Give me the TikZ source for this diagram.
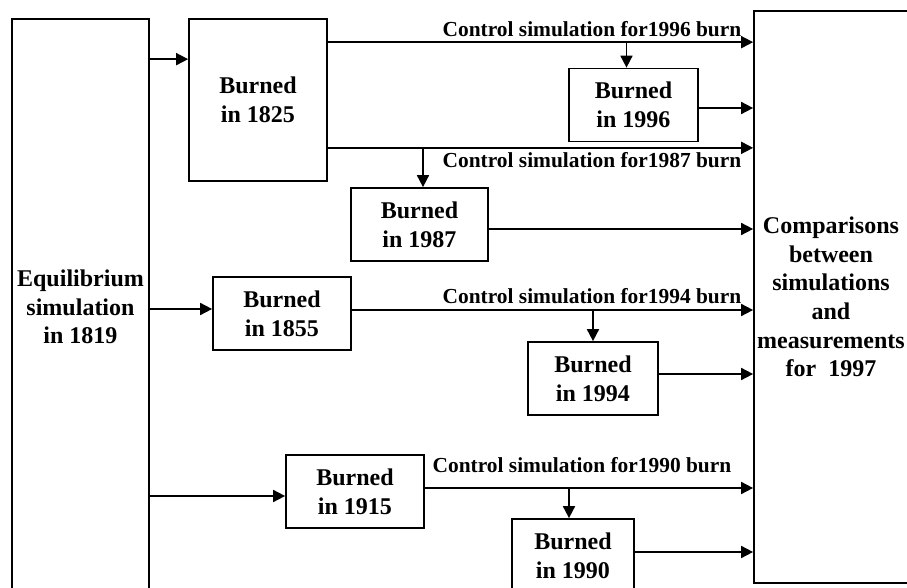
\documentclass[tikz,border=0pt]{standalone}
\usepackage{fontspec}
\setmainfont{Liberation Serif}
\usetikzlibrary{arrows.meta,positioning,calc}

\begin{document}
\begin{tikzpicture}[x=0.5pt,y=-0.5pt,line width=0.85pt,>={Triangle[length=6pt,width=6pt]}]
	\tikzstyle{box}=[draw,align=center,inner sep=0pt,font=\fontsize{12}{14.3}\selectfont\bfseries]
	\tikzstyle{burn}=[box,minimum height=36.5pt]
	\tikzstyle{ctrl}=[inner sep=0pt,font=\fontsize{10.7}{12}\selectfont\bfseries]
	\clip (0,0) rectangle (907,588);
	\node[box,minimum width=68.5pt,minimum height=288pt](eq) at (80.5,307){Equilibrium\\simulation\\in 1819};
	\node[box,minimum width=77pt,minimum height=286pt](cmp) at (831,297){Comparisons\\between\\simulations\\and\\measurements\\for\ \ 1997};
	\node[box,minimum width=69pt,minimum height=81pt](b1825) at (258,100){Burned\\in 1825};
	\node[burn,minimum width=64.5pt](b1996) at (633.5,105){Burned\\in 1996};
	\node[burn,minimum width=68.5pt](b1987) at (419.5,224.5){Burned\\in 1987};
	\node[burn,minimum width=69pt](b1855) at (282,313.5){Burned\\in 1855};
	\node[burn,minimum width=65pt](b1994) at (593,378.5){Burned\\in 1994};
	\node[burn,minimum width=69pt](b1915) at (355,491.5){Burned\\in 1915};
	\node[burn,minimum width=61pt](b1990) at (573,555.5){Burned\\in 1990};
	
	\coordinate (in1825) at ([yshift=-20.5pt]b1825.north west);
	\coordinate (in1855) at ([yshift=2.25pt]b1855.west);
	\coordinate (in1915) at ([yshift=-2.25pt]b1915.west);
	\coordinate (c1996) at ([yshift=-12pt]b1825.north east);
	\coordinate (c1987) at ([yshift=17pt]b1825.south east);
	\coordinate (c1994) at ([yshift=1.75pt]b1855.east);
	\coordinate (c1990) at ([yshift=1.75pt]b1915.east);
	\coordinate (t1996) at ([xshift=-3.5pt]b1996.north);
	\coordinate (t1987) at ([xshift=1.75pt]b1987.north);
	\coordinate (t1990) at ([xshift=-2pt]b1990.north);
	\coordinate (o1996) at ([yshift=-1.5pt]b1996.east);
	\coordinate (o1987) at ([yshift=-2.25pt]b1987.east);
	\coordinate (o1994) at ([yshift=2.25pt]b1994.east);
	\coordinate (o1990) at ([yshift=1.75pt]b1990.east);
	
	\path[->] (eq.east |- in1825) edge (in1825);
	\path[->] (eq.east |- in1855) edge (in1855);
	\path[->] (eq.east |- in1915) edge (in1915);
	
	\path[->] (c1996) edge node[ctrl,pos=1,anchor=base east,xshift=-5.5pt,yshift=3pt]{Control simulation for1996 burn} (c1996 -| cmp.west);
	\path[->] (c1987) edge node[ctrl,pos=1,anchor=base east,xshift=-5.5pt,yshift=-10pt]{Control simulation for1987 burn} (c1987 -| cmp.west);
	\path[->] (c1994) edge node[ctrl,pos=1,anchor=base east,xshift=-5.5pt,yshift=3pt]{Control simulation for1994 burn} (c1994 -| cmp.west);
	\path[->] (c1990) edge node[ctrl,pos=1,anchor=base east,xshift=-10.5pt,yshift=7.5pt]{Control simulation for1990 burn} (c1990 -| cmp.west);
	
	\path[->] (t1996 |- c1996) edge (t1996);
	\path[->] (t1987 |- c1987) edge (t1987);
	\path[->] (b1994.north |- c1994) edge (b1994.north);
	\path[->] (t1990 |- c1990) edge (t1990);
	
	\path[->] (o1996) edge (o1996 -| cmp.west);
	\path[->] (o1987) edge (o1987 -| cmp.west);
	\path[->] (o1994) edge (o1994 -| cmp.west);
	\path[->] (o1990) edge (o1990 -| cmp.west);
\end{tikzpicture}
\end{document}
